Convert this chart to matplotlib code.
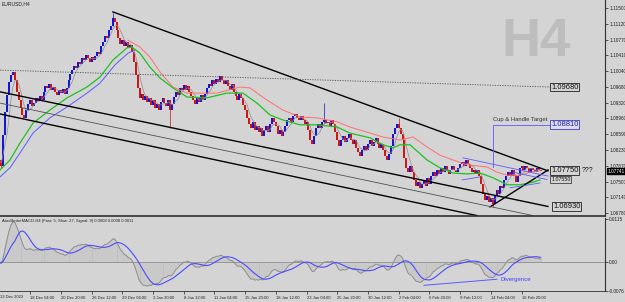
import numpy as np
import pandas as pd
import matplotlib
matplotlib.use('Agg')
import matplotlib.pyplot as plt
from matplotlib.transforms import blended_transform_factory

plt.rcParams['font.family'] = ['Liberation Sans', 'DejaVu Sans']

# Cierres H4 EURUSD, barra 0 = 13 Dec 2023
first_open = 1.0790
closes = [
    1.0800, 1.0786, 1.0858, 1.0910, 1.0950, 1.0980, 1.0996, 1.1003, 1.0984, 1.0957,
    1.0938, 1.0920, 1.0904, 1.0897, 1.0915, 1.0929, 1.0938, 1.0924, 1.0931, 1.0943,
    1.0936, 1.0947, 1.0938, 1.0957, 1.0970, 1.0966, 1.0975, 1.0961, 1.0968, 1.0957,
    1.0950, 1.0961, 1.0954, 1.0963, 1.0952, 1.0966, 1.0984, 1.0998, 1.1007, 1.1016,
    1.1012, 1.1026, 1.1021, 1.1035, 1.1030, 1.1042, 1.1035, 1.1026, 1.1037, 1.1030,
    1.1039, 1.1049, 1.1044, 1.1063, 1.1072, 1.1086, 1.1081, 1.1099, 1.1109, 1.1127,
    1.1118, 1.1099, 1.1081, 1.1067, 1.1076, 1.1063, 1.1072, 1.1058, 1.1065, 1.1049,
    1.1026, 1.0996, 1.0966, 1.0943, 1.0952, 1.0938, 1.0947, 1.0933, 1.0943, 1.0927,
    1.0938, 1.0920, 1.0929, 1.0915, 1.0933, 1.0943, 1.0931, 1.0924, 1.0938, 1.0915,
    1.0929, 1.0945, 1.0957, 1.0950, 1.0966, 1.0961, 1.0973, 1.0961, 1.0970, 1.0957,
    1.0947, 1.0938, 1.0929, 1.0943, 1.0933, 1.0950, 1.0938, 1.0952, 1.0966, 1.0975,
    1.0970, 1.0984, 1.0975, 1.0987, 1.0980, 1.0993, 1.0984, 1.0975, 1.0984, 1.0970,
    1.0961, 1.0975, 1.0957, 1.0947, 1.0938, 1.0952, 1.0943, 1.0927, 1.0915, 1.0897,
    1.0883, 1.0874, 1.0888, 1.0869, 1.0878, 1.0865, 1.0874, 1.0855, 1.0869, 1.0878,
    1.0865, 1.0883, 1.0897, 1.0888, 1.0878, 1.0860, 1.0869, 1.0855, 1.0865, 1.0878,
    1.0892, 1.0897, 1.0888, 1.0901, 1.0906, 1.0897, 1.0892, 1.0901, 1.0892, 1.0883,
    1.0888, 1.0869, 1.0846, 1.0837, 1.0855, 1.0874, 1.0883, 1.0874, 1.0888, 1.0892,
    1.0885, 1.0888, 1.0878, 1.0892, 1.0883, 1.0865, 1.0846, 1.0832, 1.0846, 1.0855,
    1.0841, 1.0851, 1.0860, 1.0846, 1.0837, 1.0846, 1.0828, 1.0818, 1.0809, 1.0823,
    1.0832, 1.0823, 1.0837, 1.0846, 1.0832, 1.0841, 1.0851, 1.0837, 1.0828, 1.0837,
    1.0823, 1.0809, 1.0800, 1.0814, 1.0832, 1.0860, 1.0874, 1.0883, 1.0874, 1.0860,
    1.0846, 1.0805, 1.0782, 1.0772, 1.0786, 1.0772, 1.0754, 1.0740, 1.0749, 1.0736,
    1.0745, 1.0754, 1.0740, 1.0759, 1.0745, 1.0763, 1.0772, 1.0763, 1.0777, 1.0768,
    1.0782, 1.0772, 1.0786, 1.0777, 1.0768, 1.0777, 1.0786, 1.0777, 1.0772, 1.0782,
    1.0791, 1.0795, 1.0786, 1.0800, 1.0791, 1.0782, 1.0772, 1.0777, 1.0768, 1.0777,
    1.0763, 1.0745, 1.0722, 1.0708, 1.0717, 1.0703, 1.0712, 1.0699, 1.0717, 1.0731,
    1.0722, 1.0740, 1.0736, 1.0754, 1.0763, 1.0772, 1.0763, 1.0777, 1.0763, 1.0749,
    1.0763, 1.0782, 1.0786, 1.0777, 1.0786, 1.0782, 1.0772, 1.0782, 1.0777, 1.0772,
    1.0782, 1.0777, 1.0774,
]
# mechas destacadas: (barra, maximo, minimo)
wicks = [(1, 1.0800, 1.0782), (59, 1.1139, 1.1109), (89, 1.0938, 1.0874),
         (169, 1.0931, 1.0885), (208, 1.0897, 1.0874), (257, 1.0712, 1.0692)]

# Medias moviles (barra, precio)
green_x = [0.3, 5.5, 10.7, 17.5, 26.3, 35.2, 45.6, 52.4, 59.1, 66.4, 69.0, 73.2, 78.4,
           83.6, 90.4, 97.7, 108.1, 118.5, 126.9, 134.2, 140.9, 147.7, 156.6, 165.4,
           175.9, 182.6, 193.1, 199.8, 205.1, 208.7, 213.9, 222.8, 229.5, 236.3, 243.6,
           250.4, 257.2, 264.5, 271.2, 278.0, 281.6]
green_y = [1.0777, 1.0800, 1.0839, 1.0885, 1.0915, 1.0943, 1.0968, 1.0991, 1.1030, 1.1058,
           1.1060, 1.1046, 1.1014, 1.0989, 1.0966, 1.0945, 1.0943, 1.0954, 1.0954, 1.0931,
           1.0904, 1.0892, 1.0881, 1.0881, 1.0876, 1.0862, 1.0851, 1.0835, 1.0828, 1.0835,
           1.0835, 1.0800, 1.0782, 1.0770, 1.0768, 1.0770, 1.0759, 1.0743, 1.0743, 1.0749,
           1.0754]
red_x = [67.0, 73.2, 78.4, 83.6, 90.4, 97.7, 106.0, 113.3, 125.3, 130.5, 139.4, 147.7,
         156.6, 165.4, 175.9, 182.6, 193.1, 199.8, 208.7, 215.5, 222.8, 229.5, 236.3,
         243.6, 254.0, 259.2, 264.5, 271.2, 276.5, 281.6]
red_y = [1.1076, 1.1060, 1.1037, 1.1003, 1.0968, 1.0954, 1.0954, 1.0954, 1.0968, 1.0966,
         1.0938, 1.0915, 1.0899, 1.0897, 1.0888, 1.0876, 1.0862, 1.0853, 1.0846, 1.0853,
         1.0830, 1.0811, 1.0800, 1.0789, 1.0784, 1.0772, 1.0765, 1.0765, 1.0772, 1.0775]
blue_x = [0.3, 5.5, 10.7, 17.5, 26.3, 35.2, 45.6, 52.4, 60.2, 67.0, 70.6]
blue_y = [1.0761, 1.0782, 1.0816, 1.0862, 1.0897, 1.0922, 1.0954, 1.0977, 1.1019, 1.1046,
          1.1053]

# Lineas dibujadas
upper_line = ([59.1, 285.8], [1.1141, 1.0775])
chan_a = ([0.3, 285.8], [1.0957, 1.0693])
chan_mid = ([0.3, 278.0], [1.0931, 1.0672])
chan_b = ([0.3, 248.8], [1.0906, 1.0672])
dotted = ([0.3, 286.9], [1.1007, 1.0968])
tri_low = ([255.6, 285.8], [1.0692, 1.0777])
blue_lines = [([241.5, 285.8], [1.0805, 1.0763]),
              ([241.0, 250.4], [1.0754, 1.0761]),
              ([266.0, 281.6], [1.0736, 1.0747]),
              ([267.6, 285.3], [1.0772, 1.0755])]
target_bar, target_low, target = 257.2, 1.0785, 1.0881
div_line = ([221.2, 259.2], [-0.0061, -0.0045])

price_ticks = [1.11500, 1.11120, 1.10770, 1.10410, 1.10040, 1.09680, 1.09320, 1.08960,
               1.08590, 1.08230, 1.07870, 1.07500, 1.07140, 1.06780]
time_labels = ['18 Dec 04:00', '20 Dec 20:00', '26 Dec 12:00', '29 Dec 04:00',
               '3 Jan 20:00', '8 Jan 12:00', '11 Jan 04:00', '15 Jan 20:00',
               '18 Jan 12:00', '23 Jan 04:00', '25 Jan 20:00', '30 Jan 12:00',
               '2 Feb 04:00', '6 Feb 20:00', '9 Feb 12:00', '14 Feb 04:00', '16 Feb 20:00']

bg = '#d4d4d4'
cup, cdn = '#1010d8', '#d01010'
W, H = 625, 302

fig = plt.figure(figsize=(W/100, H/100), dpi=100, facecolor=bg)
ax = fig.add_axes([0, 1-215.5/H, 605/W, 215.5/H], facecolor=bg)
ax2 = fig.add_axes([0, 1-291/H, 605/W, (291-217.5)/H], facecolor=bg)

c = np.array(closes)
o = np.r_[first_open, c[:-1]]
bars = np.arange(len(c))
up = c >= o

ax.text(0.886, 0.805, 'H4', transform=ax.transAxes, fontsize=39, fontweight='bold',
        color='#bdbdbd', ha='center', va='center', zorder=0)

for b, hi, lo in wicks:
    ax.vlines(b, lo, hi, color=cup if up[b] else cdn, lw=0.5)
ax.vlines(bars[up], o[up], c[up], color=cup, lw=1.4)
ax.vlines(bars[~up], o[~up], c[~up], color=cdn, lw=1.4)

sma = pd.Series(c).rolling(5, min_periods=1).mean()
ax.plot(bars, sma, color='#8c8c8c', lw=0.5)
ax.plot(blue_x, blue_y, color='#5a5aff', lw=0.7)
ax.plot(red_x, red_y, color='#ff7070', lw=0.7)
ax.plot(green_x, green_y, color='#20c020', lw=0.9)

for xs, ys in [upper_line, chan_a, chan_b, tri_low]:
    ax.plot(xs, ys, color='black', lw=1.0)
ax.plot(*chan_mid, color='#505050', lw=0.6)
ax.plot(*dotted, color='#505050', lw=0.6, ls=(0, (1.5, 1.5)))
for xs, ys in blue_lines:
    ax.plot(xs, ys, color='#5a5aff', lw=0.6)
ax.plot([target_bar, target_bar, 287.4], [target_low, target, target], color='#5a5aff', lw=0.6)
ax.text(target_bar, target + 0.0006, 'Cup & Handle Target', fontsize=4.2, color='#303030',
        ha='left', va='bottom')

def box(x, y, s, fs=5.5, tc='#101010', ec='#202020', fc=bg):
    ax.text(x, y, s, fontsize=fs, color=tc, ha='left', va='center',
            bbox=dict(boxstyle='square,pad=0.12', fc=fc, ec=ec, lw=0.6))

box(287.4, 1.0968, '1.09680')
box(287.4, target, '1.08810', tc='#2020a0', ec='#4040c0', fc='#dcdcf0')
box(287.4, 1.0775, '1.07750')
ax.text(303.5, 1.0775, '???', fontsize=5, color='#101010', ha='left', va='center')
box(287.4, 1.0755, '1.07550', fs=3.8, ec='#404040')
box(288.4, 1.0693, '1.06930')

ax.set_xlim(0.3, 315.5)
ax.set_ylim(1.06722, 1.11684)
ax.set_xticks([])
ax.yaxis.tick_right()
ax.set_yticks(price_ticks)
ax.set_yticklabels(['%.5f' % v for v in price_ticks])
ax.tick_params(axis='y', length=2, width=0.5, pad=1, labelsize=3.4, colors='#202020')
for s in ['left', 'top']:
    ax.spines[s].set_visible(False)
ax.spines['right'].set_color('#303030')
ax.spines['bottom'].set_color('#303030')
ax.spines['bottom'].set_linewidth(1.2)

tr = blended_transform_factory(ax.transAxes, ax.transData)
ax.text(1.004, 1.07741, '1.07741', transform=tr, fontsize=3.4, color='white',
        ha='left', va='center', bbox=dict(boxstyle='square,pad=0.1', fc='black', ec='black'))

# MACD (5, 27, 9)
s = pd.Series(c)
macd = s.ewm(span=5, adjust=False).mean() - s.ewm(span=27, adjust=False).mean()
signal = macd.rolling(9, min_periods=1).mean()
ax2.axhline(0, color='#8a8a8a', lw=0.6)
ax2.vlines(bars, 0, macd, color='#a8a8a8', lw=0.35)
ax2.plot(bars, macd, color='#8c8c8c', lw=0.7)
ax2.plot(bars, signal, color='#4b4bff', lw=0.8)
ax2.plot(*div_line, color='#5a5aff', lw=0.7)
ax2.text(260.8, -0.0045, 'Divergence', fontsize=4.3, color='#3c3cff', ha='left', va='center')

ax2.set_xlim(0.3, 315.5)
ax2.set_ylim(-0.0076, 0.0118)
ax2.yaxis.tick_right()
ax2.set_yticks([0.0115, 0.0, -0.0076])
ax2.set_yticklabels(['0.0115', '0.00', '-0.0076'])
ax2.tick_params(axis='y', length=2, width=0.5, pad=1, labelsize=3.4, colors='#202020')
ax2.set_xticks(np.arange(16, 16*len(time_labels)+1, 16))
ax2.set_xticklabels(time_labels)
ax2.tick_params(axis='x', length=2, width=0.5, pad=1.5, labelsize=3, colors='#202020')
for lbl in ax2.get_xticklabels():
    lbl.set_ha('left')
for sp in ['left', 'top']:
    ax2.spines[sp].set_visible(False)
ax2.spines['right'].set_color('#303030')
ax2.spines['bottom'].set_color('#303030')
ax2.spines['bottom'].set_linewidth(0.6)

fig.text(0.5/W, 1-297/H, '13 Dec 2023', fontsize=3, color='#202020', ha='left', va='center')
fig.text(2/W, 1-4/H, 'EURUSD,H4', fontsize=3.6, color='#202020', ha='left', va='center')
fig.text(2/W, 1-221/H, 'AtasBetterMACD-H4 (Fast: 5, Slow: 27, Signal: 9) 0.0008 0.0008 0.0011',
         fontsize=3, color='#202020', ha='left', va='center')

fig.savefig('out.png', dpi=100, facecolor=bg)
